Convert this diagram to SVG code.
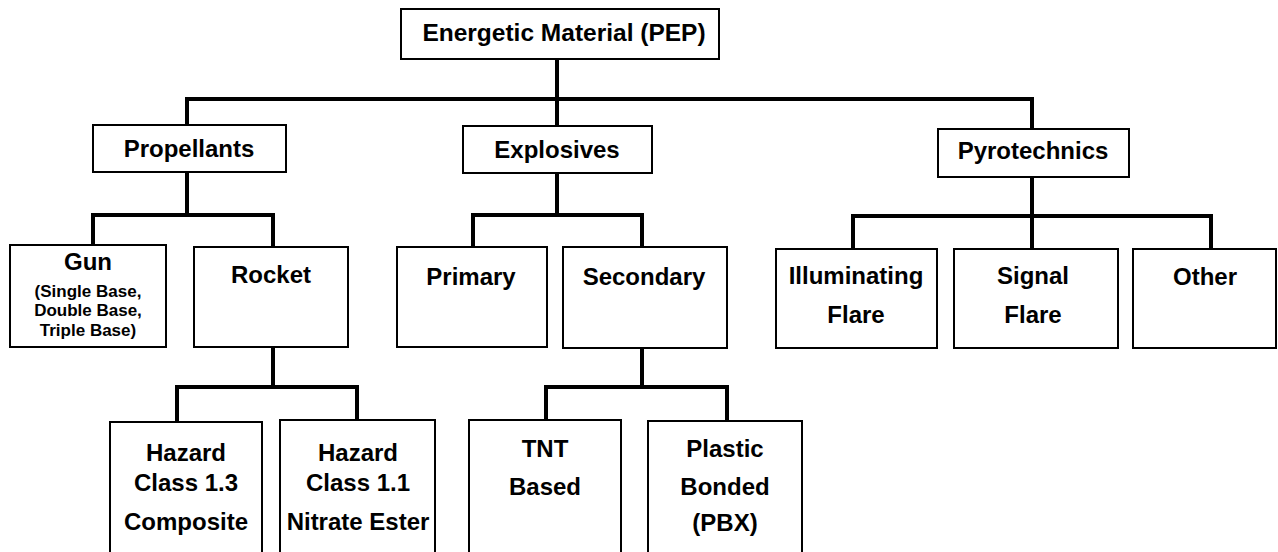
<svg xmlns="http://www.w3.org/2000/svg" width="1278" height="552" viewBox="0 0 1278 552">
<style>
.box{fill:#fff;stroke:#000;stroke-width:2}
.t{font-family:"Liberation Sans",Arial,sans-serif;font-weight:bold;font-size:24px;fill:#000;text-anchor:middle}
.s{font-size:17px}
.c{fill:none;stroke:#000;stroke-width:4;stroke-linecap:square;stroke-linejoin:miter}
</style>
<rect width="1278" height="552" fill="#fff"/>
<g id="connectors">
<path class="c" d="M557 59V99M187 99H1032M187 99V125M557 99V126M1032 99V129"/>
<path class="c" d="M187 172V215M93 215H273M93 215V245M273 215V247"/>
<path class="c" d="M557 173V215M473 215H642M473 215V247M642 215V247"/>
<path class="c" d="M1032 177V249M853 216H1211M853 216V249M1211 216V249"/>
<path class="c" d="M273 347V387M177 387H357M177 387V422M357 387V420"/>
<path class="c" d="M642 348V387M546 387H727M546 387V420M727 387V421"/>
</g>
<g id="n-root"><rect class="box" x="401" y="9" width="318" height="50"/><text class="t" x="564" y="41" style="font-size:24.5px">Energetic Material (PEP)</text></g>
<g id="n-propellants"><rect class="box" x="93" y="125" width="193" height="47"/><text class="t" x="189" y="157">Propellants</text></g>
<g id="n-explosives"><rect class="box" x="463" y="126" width="189" height="47"/><text class="t" x="557" y="158">Explosives</text></g>
<g id="n-pyrotechnics"><rect class="box" x="938" y="129" width="191" height="48"/><text class="t" x="1033" y="159">Pyrotechnics</text></g>
<g id="n-gun"><rect class="box" x="10" y="245" width="156" height="102"/><text class="t" x="88" y="270">Gun</text><text class="t s" x="88" y="297">(Single Base,</text><text class="t s" x="88" y="316">Double Base,</text><text class="t s" x="88" y="336">Triple Base)</text></g>
<g id="n-rocket"><rect class="box" x="194" y="247" width="154" height="100"/><text class="t" x="271" y="283">Rocket</text></g>
<g id="n-primary"><rect class="box" x="397" y="247" width="150" height="100"/><text class="t" x="471" y="285">Primary</text></g>
<g id="n-secondary"><rect class="box" x="563" y="247" width="164" height="101"/><text class="t" x="644" y="285">Secondary</text></g>
<g id="n-illuminating"><rect class="box" x="776" y="249" width="161" height="99"/><text class="t" x="856" y="284">Illuminating</text><text class="t" x="856" y="323">Flare</text></g>
<g id="n-signal"><rect class="box" x="954" y="249" width="164" height="99"/><text class="t" x="1033" y="284">Signal</text><text class="t" x="1033" y="323">Flare</text></g>
<g id="n-other"><rect class="box" x="1133" y="249" width="143" height="99"/><text class="t" x="1205" y="285">Other</text></g>
<g id="n-hazard13"><rect class="box" x="110" y="422" width="152" height="140"/><text class="t" x="186" y="461">Hazard</text><text class="t" x="186" y="491">Class 1.3</text><text class="t" x="186" y="530">Composite</text></g>
<g id="n-hazard11"><rect class="box" x="280" y="420" width="155" height="142"/><text class="t" x="358" y="461">Hazard</text><text class="t" x="358" y="491">Class 1.1</text><text class="t" x="358" y="530">Nitrate Ester</text></g>
<g id="n-tnt"><rect class="box" x="469" y="420" width="152" height="142"/><text class="t" x="545" y="457">TNT</text><text class="t" x="545" y="495">Based</text></g>
<g id="n-pbx"><rect class="box" x="648" y="421" width="154" height="141"/><text class="t" x="725" y="457">Plastic</text><text class="t" x="725" y="495">Bonded</text><text class="t" x="725" y="531">(PBX)</text></g>
</svg>
